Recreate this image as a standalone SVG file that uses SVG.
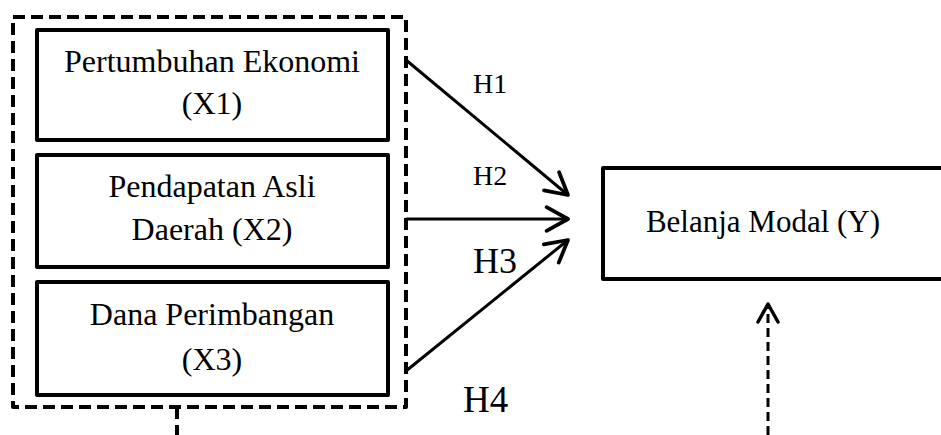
<svg xmlns="http://www.w3.org/2000/svg" width="941" height="435" viewBox="0 0 941 435">
  <style>
    .box { fill: #fff; stroke: #000; stroke-width: 4; stroke-linejoin: round; }
    .group { fill: none; stroke: #000; stroke-width: 4; stroke-dasharray: 12 6; stroke-linejoin: round; }
    .label { font-family: "Liberation Serif", "Times New Roman", serif; font-size: 32px; fill: #000; text-anchor: middle; }
    .label.outcome { font-size: 31px; }
    .hyp { font-family: "Liberation Serif", "Times New Roman", serif; fill: #000; }
    .edge { fill: none; stroke: #000; stroke-width: 3; }
    .dash { fill: none; stroke: #000; stroke-width: 3; stroke-dasharray: 9 5; }
  </style>
  <defs>
    <marker id="open" markerUnits="userSpaceOnUse" markerWidth="30" markerHeight="30" viewBox="-24 -13 28 26" refX="0" refY="0" orient="auto">
      <path d="M-20,-11 L0,0 L-20,11" fill="none" stroke="#000" stroke-width="3.5" stroke-linecap="round" stroke-linejoin="round"/>
    </marker>
  </defs>

  <!-- grouping of independent variables -->
  <rect id="independent-group" class="group" x="13" y="17" width="393" height="390"/>

  <g id="x1">
    <rect class="box" x="37" y="30" width="351" height="110"/>
    <text class="label" x="212" y="72">Pertumbuhan Ekonomi</text>
    <text class="label" x="212" y="114">(X1)</text>
  </g>

  <g id="x2">
    <rect class="box" x="37" y="155" width="351" height="112"/>
    <text class="label" x="212" y="197">Pendapatan Asli</text>
    <text class="label" x="212" y="240">Daerah (X2)</text>
  </g>

  <g id="x3">
    <rect class="box" x="37" y="282" width="351" height="113"/>
    <text class="label" x="212" y="325">Dana Perimbangan</text>
    <text class="label" x="212" y="370">(X3)</text>
  </g>

  <g id="y">
    <rect class="box" x="603" y="168" width="360" height="111"/>
    <text class="label outcome" x="763" y="232">Belanja Modal (Y)</text>
  </g>

  <g id="connectors">
    <path class="edge" d="M406,60 L568,195" marker-end="url(#open)"/>
    <path class="edge" d="M406,219 L568,219" marker-end="url(#open)"/>
    <path class="edge" d="M406,371 L568,240" marker-end="url(#open)"/>
    <path class="dash" d="M768,435 L768,306"/>
    <path d="M758,322 L768,304 L778,322" fill="none" stroke="#000" stroke-width="3.5" stroke-linecap="round" stroke-linejoin="round"/>
    <path class="group" d="M177,407 L177,435" stroke-dasharray="10 6"/>
  </g>

  <g id="hypotheses">
    <text class="hyp" x="473" y="93" font-size="28">H1</text>
    <text class="hyp" x="473" y="185" font-size="28">H2</text>
    <text class="hyp" x="473" y="273" font-size="36">H3</text>
    <text class="hyp" x="463" y="412" font-size="37">H4</text>
  </g>
</svg>
